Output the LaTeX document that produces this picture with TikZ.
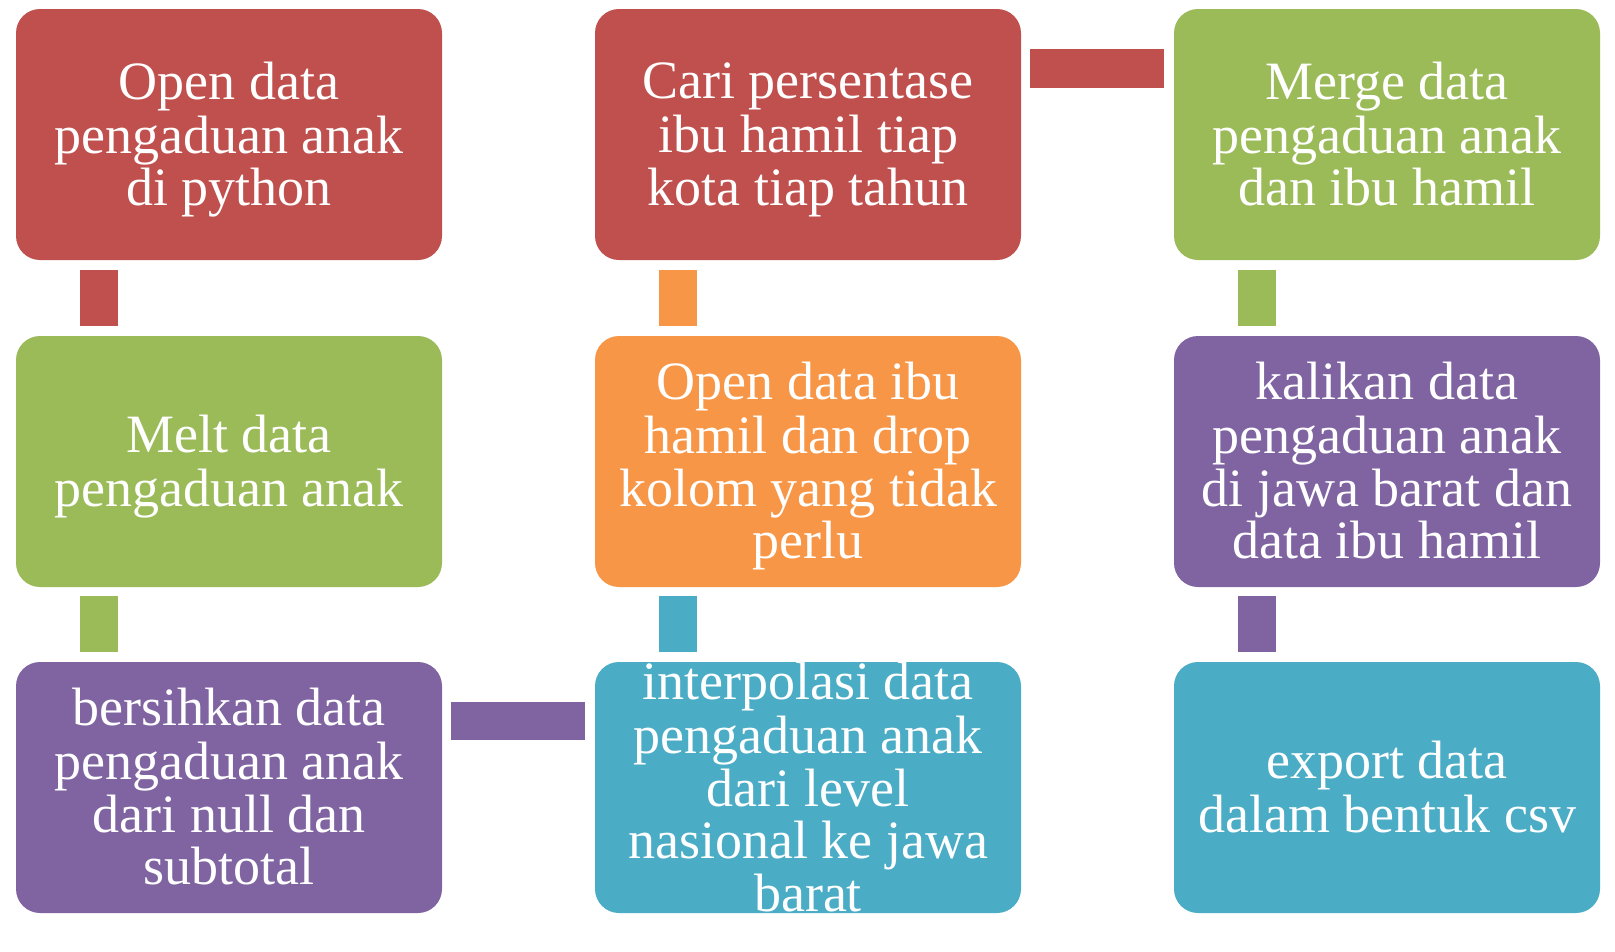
\documentclass[tikz,border=0pt]{standalone}
\usepackage{fontspec}
\setmainfont{Liberation Serif}
\definecolor{cred}{HTML}{C0504D}
\definecolor{cgreen}{HTML}{9BBB59}
\definecolor{corange}{HTML}{F79646}
\definecolor{cpurple}{HTML}{8064A2}
\definecolor{cblue}{HTML}{4BACC6}
\tikzset{
  stepbox/.style={draw=none, fill=#1, rounded corners=24pt, minimum width=426pt, minimum height=251pt, inner sep=0pt},
  boxtext/.style={text=white, align=center, inner sep=0pt, yshift=-7pt, font=\fontsize{54}{52.5}\selectfont},
  bar/.style={draw=#1, line width=38.5pt, line cap=butt}
}
\begin{document}
\begin{tikzpicture}[x=1pt,y=-1pt]
\useasboundingbox (0,0) rectangle (1615,951);
\node[stepbox=cred,    label={[boxtext]center:\strut Open data\\pengaduan anak\\di python\strut}] (a1) at (229,134.5) {};
\node[stepbox=cgreen,  label={[boxtext]center:\strut Melt data\\pengaduan anak\strut}] (a2) at (229,461.5) {};
\node[stepbox=cpurple, label={[boxtext]center:\strut bersihkan data\\pengaduan anak\\dari null dan\\subtotal\strut}] (a3) at (229,787.5) {};
\node[stepbox=cblue,   label={[boxtext]center:\strut interpolasi data\\pengaduan anak\\dari level\\nasional ke jawa\\barat\strut}] (b3) at (808,787.5) {};
\node[stepbox=corange, label={[boxtext]center:\strut Open data ibu\\hamil dan drop\\kolom yang tidak\\perlu\strut}] (b2) at (808,461.5) {};
\node[stepbox=cred,    label={[boxtext]center:\strut Cari persentase\\ibu hamil tiap\\kota tiap tahun\strut}] (b1) at (808,134.5) {};
\node[stepbox=cgreen,  label={[boxtext]center:\strut Merge data\\pengaduan anak\\dan ibu hamil\strut}] (c1) at (1387,134.5) {};
\node[stepbox=cpurple, label={[boxtext]center:\strut kalikan data\\pengaduan anak\\di jawa barat dan\\data ibu hamil\strut}] (c2) at (1387,461.5) {};
\node[stepbox=cblue,   label={[boxtext]center:\strut export data\\dalam bentuk csv\strut}] (c3) at (1387,787.5) {};
% vertical bars
\draw[bar=cred]    ([xshift=83pt,yshift=-10pt]a1.south west) -- ([xshift=83pt,yshift=10pt]a2.north west);
\draw[bar=cgreen]  ([xshift=83pt,yshift=-9pt]a2.south west) -- ([xshift=83pt,yshift=10pt]a3.north west);
\draw[bar=cblue]   ([xshift=83pt,yshift=10pt]b3.north west) -- ([xshift=83pt,yshift=-9pt]b2.south west);
\draw[bar=corange] ([xshift=83pt,yshift=10pt]b2.north west) -- ([xshift=83pt,yshift=-10pt]b1.south west);
\draw[bar=cgreen]  ([xshift=83pt,yshift=-10pt]c1.south west) -- ([xshift=83pt,yshift=10pt]c2.north west);
\draw[bar=cpurple] ([xshift=83pt,yshift=-9pt]c2.south west) -- ([xshift=83pt,yshift=10pt]c3.north west);
% horizontal bars
\draw[bar=cpurple] ([xshift=9pt,yshift=-59pt]a3.north east) -- ([xshift=-10pt,yshift=-59pt]b3.north west);
\draw[bar=cred]    ([xshift=9pt,yshift=-59.5pt]b1.north east) -- ([xshift=-10pt,yshift=-59.5pt]c1.north west);
\end{tikzpicture}
\end{document}
